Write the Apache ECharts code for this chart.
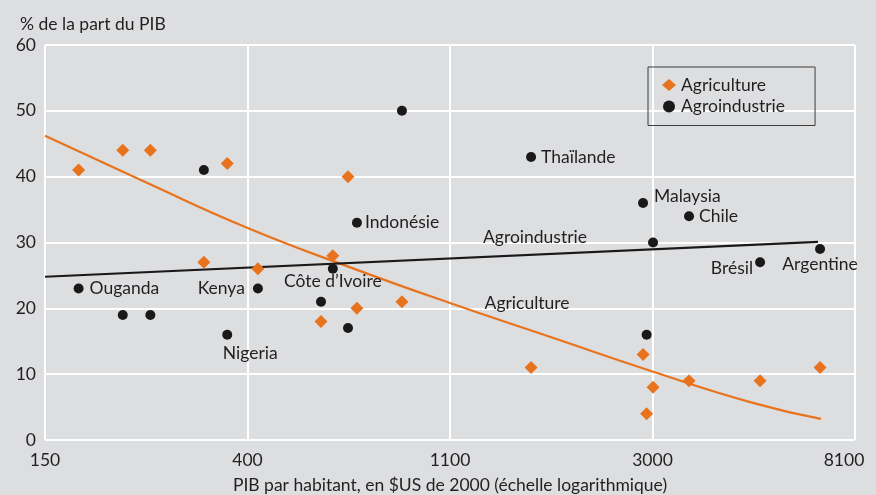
<!DOCTYPE html>
<html>
<head>
<meta charset="utf-8">
<script src="https://cdn.jsdelivr.net/npm/echarts@6/dist/echarts.min.js"></script>
<style>
  html, body { margin: 0; padding: 0; background: #dddee0; }
  #chart { width: 876px; height: 495px; }
</style>
</head>
<body>
<div id="chart"></div>
<script>
// tick labels of the log x axis
const xTicks = [150, 400, 1100, 3000, 8100];

// Agriculture: PIB par habitant / part du PIB
const agriGdp = [177, 220, 252, 368, 667, 328, 428, 619, 584, 697, 870, 1643, 2852, 2996, 2903, 3577, 5075, 6819];
const agriShare = [41, 44, 44, 42, 40, 27, 26, 28, 18, 20, 21, 11, 13, 8, 4, 9, 9, 11];

// Agroindustrie
const agroNames = ['Ouganda', '', '', '', 'Nigeria', 'Kenya', "Côte d’Ivoire", '', '', 'Indonésie', '', 'Thaïlande', 'Malaysia', '', 'Chile', '', 'Brésil', 'Argentine'];
const agroGdp = [177, 220, 252, 328, 368, 428, 619, 584, 667, 697, 870, 1643, 2852, 2996, 3577, 2903, 5075, 6819];
const agroShare = [23, 19, 19, 41, 16, 23, 26, 21, 17, 33, 50, 43, 36, 30, 34, 16, 27, 29];

// trend lines
const agriTrendGdp = [150, 247, 407, 670, 1102, 1815, 2988, 4921, 6850];
const agriTrendShare = [46.2, 39.1, 32.2, 26.3, 20.8, 15.6, 10.4, 5.6, 3.2];
const agroTrendGdp = [150, 6750];
const agroTrendShare = [24.8, 30.1];

// where the trend names sit
const trendNames = ['Agroindustrie', 'Agriculture'];
const trendNameGdp = [1675, 1611];
const trendNameShare = [30.8, 20.8];

const ORANGE = '#e8731c';
const BLACK = '#1b1819';
const TEXT = '#231f20';
const FONT = 'Lato';
const FS = 17.5;

// log scale: ticks 150..8100 equally spaced
const BASE = Math.pow(xTicks[4] / xTicks[0], 1 / 4);
function lx(v) { return Math.log(v / xTicks[0]) / Math.log(BASE); }

const labelPos = {
  'Ouganda': { position: 'right', distance: 6 },
  'Nigeria': { position: 'bottom', distance: 5, offset: [23, 0] },
  'Kenya': { position: 'left', distance: 8 },
  "Côte d’Ivoire": { position: 'bottom', distance: 4, offset: [0, -5] },
  'Indonésie': { position: 'right', distance: 3 },
  'Thaïlande': { position: 'right', distance: 5 },
  'Malaysia': { position: 'right', distance: 6, offset: [0, -7] },
  'Chile': { position: 'right', distance: 5 },
  'Brésil': { position: 'left', distance: 2, offset: [0, 6] },
  'Argentine': { position: 'bottom', distance: 1 }
};

const agroData = agroGdp.map(function (g, i) {
  const name = agroNames[i];
  const d = { value: [lx(g), agroShare[i]], name: name };
  if (name) {
    d.label = Object.assign({ show: true, formatter: '{b}' }, labelPos[name]);
  }
  return d;
});

const chart = echarts.init(document.getElementById('chart'), null, { renderer: 'canvas' });

chart.setOption({
  backgroundColor: '#dddee0',
  animation: false,
  textStyle: { fontFamily: FONT },
  title: {
    text: '% de la part du PIB',
    left: 15,
    top: 10,
    textStyle: { fontFamily: FONT, fontSize: FS, fontWeight: 'normal', color: TEXT }
  },
  legend: {
    data: [
      { name: 'Agriculture', icon: 'diamond' },
      { name: 'Agroindustrie', icon: 'circle' }
    ],
    orient: 'vertical',
    left: 648,
    top: 67,
    padding: [9, 30, 10, 14],
    itemGap: 3.5,
    itemWidth: 14,
    itemHeight: 12,
    borderColor: '#3d3d3d',
    borderWidth: 1,
    textStyle: { fontFamily: FONT, fontSize: FS, color: TEXT }
  },
  grid: { left: 45, right: 21, top: 45, bottom: 55, outerBoundsMode: 'none' },
  xAxis: {
    type: 'value',
    min: 0,
    max: 4,
    interval: 1,
    name: 'PIB par habitant, en $US de 2000 (échelle logarithmique)',
    nameLocation: 'middle',
    nameGap: 36,
    nameTextStyle: { fontFamily: FONT, fontSize: FS, color: TEXT },
    axisLine: { show: false },
    axisTick: { show: false },
    splitLine: { show: true, lineStyle: { color: '#ffffff', width: 2 } },
    axisLabel: {
      margin: 11,
      fontFamily: FONT,
      fontSize: FS,
      color: TEXT,
      formatter: function (v) {
        const t = xTicks[Math.round(v)];
        return v === 4 ? '{r|' + t + '}' : String(t);
      },
      rich: { r: { fontFamily: FONT, fontSize: FS, color: TEXT, padding: [0, 22, 0, 0] } }
    }
  },
  yAxis: {
    type: 'value',
    min: 0,
    max: 60,
    interval: 10,
    axisLine: { show: false },
    axisTick: { show: false },
    splitLine: { show: true, lineStyle: { color: '#ffffff', width: 2 } },
    axisLabel: { margin: 9, fontFamily: FONT, fontSize: FS, color: TEXT }
  },
  series: [
    {
      name: 'Agriculture',
      type: 'scatter',
      symbol: 'diamond',
      symbolSize: 13,
      itemStyle: { color: ORANGE, opacity: 1 },
      data: agriGdp.map(function (g, i) { return [lx(g), agriShare[i]]; }),
      z: 3
    },
    {
      name: 'Agroindustrie',
      type: 'scatter',
      symbol: 'circle',
      symbolSize: 10,
      itemStyle: { color: BLACK, opacity: 1 },
      label: { fontFamily: FONT, fontSize: FS, color: TEXT },
      data: agroData,
      z: 4
    },
    {
      name: 'trendAgri',
      type: 'line',
      smooth: true,
      showSymbol: false,
      silent: true,
      lineStyle: { color: ORANGE, width: 2.2 },
      data: agriTrendGdp.map(function (g, i) { return [lx(g), agriTrendShare[i]]; }),
      z: 2
    },
    {
      name: 'trendAgro',
      type: 'line',
      showSymbol: false,
      silent: true,
      lineStyle: { color: BLACK, width: 2.2 },
      data: agroTrendGdp.map(function (g, i) { return [lx(g), agroTrendShare[i]]; }),
      z: 2
    },
    {
      name: 'trendNames',
      type: 'scatter',
      symbolSize: 0,
      silent: true,
      itemStyle: { opacity: 1 },
      label: {
        show: true,
        position: 'inside',
        formatter: '{b}',
        fontFamily: FONT,
        fontSize: FS,
        color: TEXT
      },
      data: trendNames.map(function (n, i) {
        return { name: n, value: [lx(trendNameGdp[i]), trendNameShare[i]] };
      })
    }
  ]
});
</script>
</body>
</html>
